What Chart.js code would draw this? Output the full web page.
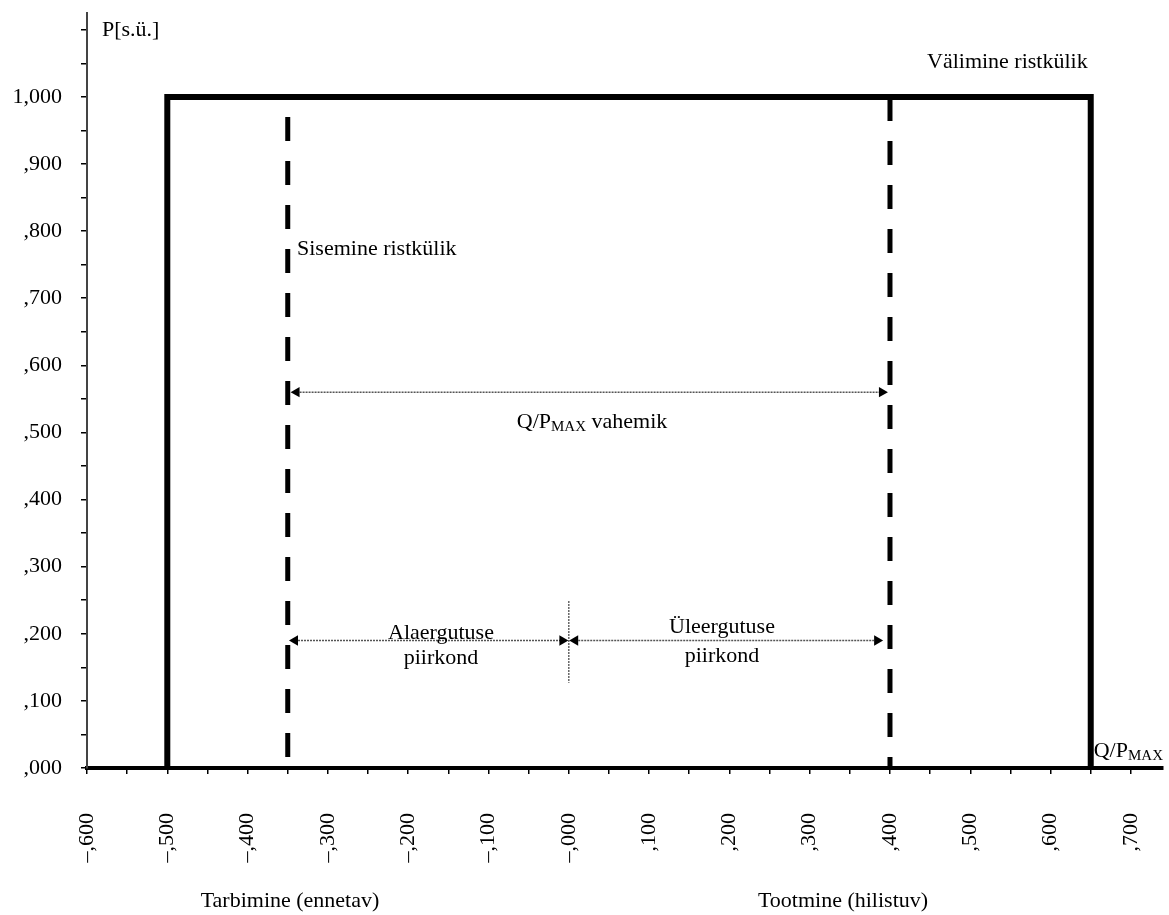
<!DOCTYPE html>
<html>
<head>
<meta charset="utf-8">
<script src="https://cdn.jsdelivr.net/npm/chart.js@4.4.1/dist/chart.umd.min.js"></script>
<style>
    html, body { margin: 0; padding: 0; background: #fff; }
    #wrap { width: 1169px; height: 915px; }
</style>
</head>
<body>
<div id="wrap"><canvas id="qpChart"></canvas></div>
<script>
// outer rectangle (Välimine ristkülik)
const outerX = [-0.5, -0.5, 0.65, 0.65];
const outerY = [0, 1, 1, 0];
// inner rectangle sides (Sisemine ristkülik), dashed
const innerLeftX = [-0.35, -0.35];
const innerLeftY = [0.97, 0];
const innerRightX = [0.4, 0.4];
const innerRightY = [1.0, 0];
// double arrows
const rangeArrowX = [-0.339, 0.39];
const rangeArrowY = [0.56, 0.56];
const underArrowX = [-0.341, -0.008];
const underArrowY = [0.19, 0.19];
const overArrowX = [0.008, 0.384];
const overArrowY = [0.19, 0.19];
const dividerX = [0, 0];
const dividerY = [0.249, 0.127];

// axis labels
const xTickLabels = ['–,600', '–,500', '–,400', '–,300', '–,200', '–,100', '–,000',
    ',100', ',200', ',300', ',400', ',500', ',600', ',700'];
const yTickLabels = [',000', ',100', ',200', ',300', ',400', ',500', ',600', ',700', ',800', ',900', '1,000'];

const FONT = '"Liberation Serif", "DejaVu Serif", serif';

function pts(xs, ys) {
    return xs.map((x, i) => ({ x: x, y: ys[i] }));
}

function lineSet(xs, ys, opts) {
    return Object.assign({
        data: pts(xs, ys),
        showLine: true,
        borderColor: '#000',
        backgroundColor: '#000',
        pointRadius: 0,
        fill: false,
        tension: 0,
        clip: false
    }, opts);
}

const arrowStyle = {
    borderColor: '#555',
    borderWidth: 1.5,
    borderDash: [2, 1],
    pointStyle: 'triangle',
    pointRadius: 6,
    pointBackgroundColor: '#000',
    pointBorderColor: '#000',
    pointBorderWidth: 0,
    pointRotation: [-90, 90]
};

// x ticks every 0.05, labels only on the tenths
function stepTicks(from, to) {
    const t = [];
    for (let i = 0; from + i * 0.05 <= to + 1e-9; i++) {
        t.push({ value: Math.round((from + i * 0.05) * 1000) / 1000 });
    }
    return t;
}

function tickLabel(v, list, start) {
    const k = Math.round((v - start) * 20);
    if (k % 2 !== 0) return '';
    return list[k / 2] || '';
}

// text with subscript "MAX"
function drawQP(ctx, x, y, rest, align) {
    ctx.font = '22px ' + FONT;
    const w1 = ctx.measureText('Q/P').width;
    ctx.font = '15px ' + FONT;
    const w2 = ctx.measureText('MAX').width;
    ctx.font = '22px ' + FONT;
    const w3 = rest ? ctx.measureText(rest).width : 0;
    let left = x;
    if (align === 'center') left = x - (w1 + w2 + w3) / 2;
    ctx.textAlign = 'left';
    ctx.fillText('Q/P', left, y);
    ctx.font = '15px ' + FONT;
    ctx.fillText('MAX', left + w1, y + 3);
    if (rest) {
        ctx.font = '22px ' + FONT;
        ctx.fillText(rest, left + w1 + w2, y);
    }
}

const textPlugin = {
    id: 'texts',
    afterDraw(chart) {
        const ctx = chart.ctx;
        const xs = chart.scales.x;
        ctx.save();
        ctx.fillStyle = '#000';
        ctx.textBaseline = 'alphabetic';
        ctx.font = '22px ' + FONT;
        ctx.textAlign = 'left';
        ctx.fillText('P[s.ü.]', 102, 36);
        ctx.fillText('Välimine ristkülik', 927, 68);
        ctx.fillText('Sisemine ristkülik', 297, 255);
        ctx.textAlign = 'center';
        ctx.fillText('Alaergutuse', 441, 639);
        ctx.fillText('piirkond', 441, 664);
        ctx.fillText('Üleergutuse', 722, 633);
        ctx.fillText('piirkond', 722, 662);
        ctx.fillText('Tarbimine (ennetav)', 290, 907);
        ctx.fillText('Tootmine (hilistuv)', 843, 907);
        drawQP(ctx, 592, 428, ' vahemik', 'center');
        drawQP(ctx, xs.getPixelForValue(0.65) + 3, 757, '', 'left');
        ctx.restore();
    }
};

const ctx = document.getElementById('qpChart').getContext('2d');
const qpChart = new Chart(ctx, {
    type: 'scatter',
    data: {
        datasets: [
            lineSet(outerX, outerY, { borderWidth: 6, borderJoinStyle: 'miter' }),
            lineSet(innerLeftX, innerLeftY, { borderWidth: 5, borderDash: [24, 20] }),
            lineSet(innerRightX, innerRightY, { borderWidth: 5, borderDash: [24, 20] }),
            lineSet(rangeArrowX, rangeArrowY, arrowStyle),
            lineSet(underArrowX, underArrowY, arrowStyle),
            lineSet(overArrowX, overArrowY, arrowStyle),
            lineSet(dividerX, dividerY, { borderColor: '#666', borderWidth: 1.5, borderDash: [2, 1] })
        ]
    },
    options: {
        responsive: true,
        maintainAspectRatio: false,
        animation: false,
        layout: { padding: { top: 13, right: 6, left: 0, bottom: 0 } },
        plugins: {
            legend: { display: false },
            tooltip: { enabled: false }
        },
        scales: {
            x: {
                type: 'linear',
                min: -0.6,
                max: 0.74,
                afterBuildTicks(scale) { scale.ticks = stepTicks(-0.6, 0.7); },
                afterFit(scale) {
                    scale.height = 147;
                    scale.paddingLeft = 0;
                    scale.paddingRight = 0;
                },
                grid: { drawOnChartArea: false, drawTicks: true, tickLength: 6, color: '#000', lineWidth: 1.5 },
                border: { color: '#000', width: 4 },
                ticks: {
                    autoSkip: false,
                    minRotation: 90,
                    maxRotation: 90,
                    padding: 39,
                    color: '#000',
                    font: { family: FONT, size: 22 },
                    callback: (v) => tickLabel(v, xTickLabels, -0.6)
                }
            },
            y: {
                type: 'linear',
                min: 0,
                max: 1.125,
                afterBuildTicks(scale) { scale.ticks = stepTicks(0, 1.1); },
                afterFit(scale) {
                    scale.width = 87;
                    scale.paddingTop = 0;
                    scale.paddingBottom = 0;
                },
                grid: { drawOnChartArea: false, drawTicks: true, tickLength: 6, color: '#000', lineWidth: 1.5 },
                border: { color: '#444', width: 2 },
                ticks: {
                    autoSkip: false,
                    padding: 19,
                    color: '#000',
                    font: { family: FONT, size: 22 },
                    callback: (v) => tickLabel(v, yTickLabels, 0)
                }
            }
        }
    },
    plugins: [textPlugin]
});
</script>
</body>
</html>
